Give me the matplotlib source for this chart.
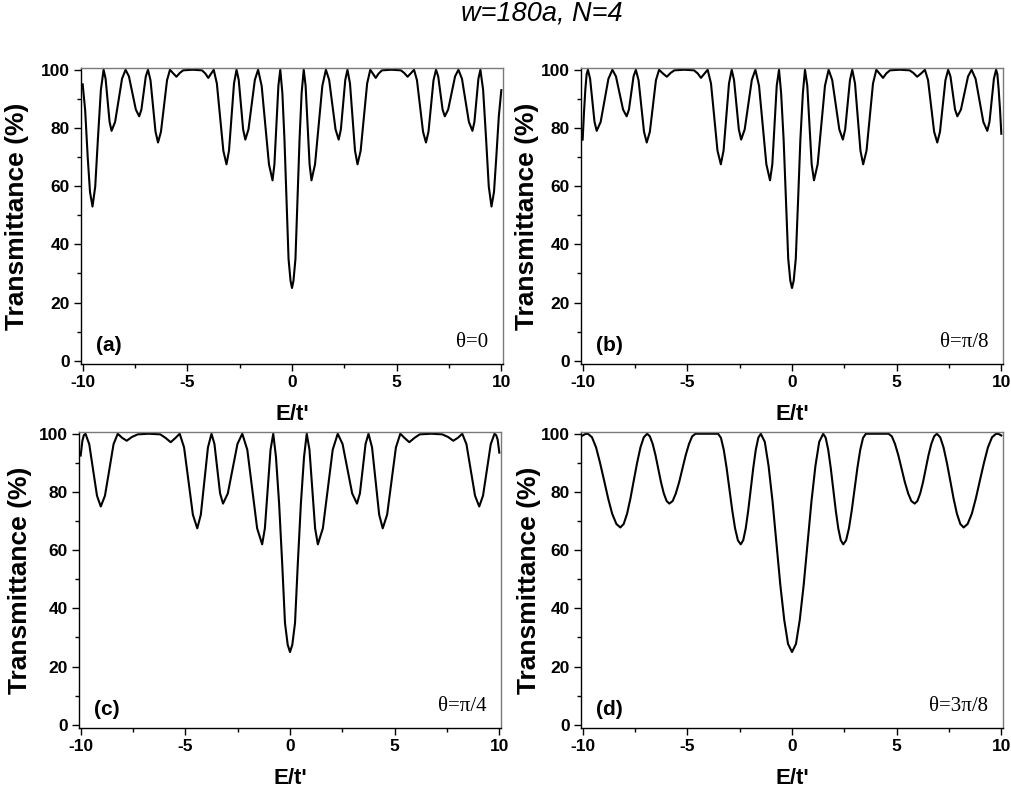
import matplotlib.pyplot as plt
from matplotlib.ticker import MultipleLocator

plt.rcParams["axes.unicode_minus"] = False
plt.rcParams["font.family"] = ["Liberation Sans", "DejaVu Sans"]

# transmittance curves, (E/t', T %)
curve_a = [
    (-10.00, 95.0), (-9.88, 86.0), (-9.76, 70.0), (-9.65, 58.0), (-9.53, 53.0),
    (-9.40, 59.9), (-9.27, 76.5), (-9.13, 93.1), (-9.00, 100.0),
    (-8.905, 96.9), (-8.81, 89.5), (-8.715, 82.1), (-8.62, 79.0),
    (-8.45, 82.1), (-8.285, 89.5), (-8.12, 96.9), (-7.95, 100.0),
    (-7.79, 97.7), (-7.625, 92.0), (-7.46, 86.3), (-7.30, 84.0),
    (-7.195, 86.3), (-7.09, 92.0), (-6.985, 97.7), (-6.88, 100.0),
    (-6.76, 96.4), (-6.64, 87.5), (-6.52, 78.7), (-6.40, 75.0),
    (-6.26, 78.7), (-6.115, 87.5), (-5.97, 96.4), (-5.83, 100.0),
    (-5.68, 98.8), (-5.52, 97.6), (-5.36, 98.9), (-5.20, 99.8), (-4.75, 100.0),
    (-4.30, 99.8), (-4.14, 98.7), (-4.00, 97.2), (-3.87, 98.6), (-3.74, 100.0),
    (-3.59, 95.3), (-3.435, 83.75), (-3.28, 72.2), (-3.13, 67.5),
    (-3.01, 72.2), (-2.89, 83.75), (-2.77, 95.3), (-2.65, 100.0),
    (-2.545, 96.5), (-2.44, 88.0), (-2.335, 79.5), (-2.23, 76.0),
    (-2.08, 79.5), (-1.925, 88.0), (-1.775, 96.5), (-1.62, 100.0),
    (-1.45, 94.5), (-1.275, 81.0), (-1.10, 67.5), (-0.93, 62.0),
    (-0.84, 67.5), (-0.745, 81.0), (-0.65, 94.5), (-0.56, 100.0),
    (-0.46, 92.0), (-0.36, 76.0), (-0.26, 55.0), (-0.165, 35.0), (-0.07, 27.5),
    (0.00, 25.0),
    (0.07, 27.5), (0.165, 35.0), (0.26, 55.0), (0.36, 76.0), (0.46, 92.0), (0.56, 100.0),
    (0.65, 94.5), (0.745, 81.0), (0.84, 67.5), (0.93, 62.0),
    (1.10, 67.5), (1.275, 81.0), (1.45, 94.5), (1.62, 100.0),
    (1.775, 96.5), (1.925, 88.0), (2.08, 79.5), (2.23, 76.0),
    (2.335, 79.5), (2.44, 88.0), (2.545, 96.5), (2.65, 100.0),
    (2.77, 95.3), (2.89, 83.75), (3.01, 72.2), (3.13, 67.5),
    (3.28, 72.2), (3.435, 83.75), (3.59, 95.3), (3.74, 100.0),
    (3.87, 98.6), (4.00, 97.2), (4.14, 98.7), (4.30, 99.8), (4.75, 100.0),
    (5.20, 99.8), (5.36, 98.9), (5.52, 97.6), (5.68, 98.8), (5.83, 100.0),
    (5.97, 96.4), (6.115, 87.5), (6.26, 78.7), (6.40, 75.0),
    (6.52, 78.7), (6.64, 87.5), (6.76, 96.4), (6.88, 100.0),
    (6.985, 97.7), (7.09, 92.0), (7.195, 86.3), (7.30, 84.0),
    (7.46, 86.3), (7.625, 92.0), (7.79, 97.7), (7.95, 100.0),
    (8.12, 96.9), (8.285, 89.5), (8.45, 82.1), (8.62, 79.0),
    (8.715, 82.1), (8.81, 89.5), (8.905, 96.9), (9.00, 100.0),
    (9.13, 93.1), (9.27, 76.5), (9.40, 59.9), (9.53, 53.0),
    (9.65, 58.0), (9.76, 70.0), (9.88, 84.0), (10.00, 93.0),
]

curve_b = [
    (-10.00, 76.0), (-9.94, 85.0), (-9.87, 93.5), (-9.81, 98.5), (-9.75, 100.0),
    (-9.645, 96.9), (-9.54, 89.5), (-9.435, 82.1), (-9.33, 79.0),
    (-9.14, 82.1), (-8.955, 89.5), (-8.77, 96.9), (-8.58, 100.0),
    (-8.41, 97.7), (-8.24, 92.0), (-8.07, 86.3), (-7.90, 84.0),
    (-7.79, 86.3), (-7.68, 92.0), (-7.57, 97.7), (-7.46, 100.0),
    (-7.33, 96.4), (-7.20, 87.5), (-7.07, 78.7), (-6.94, 75.0),
    (-6.79, 78.7), (-6.645, 87.5), (-6.50, 96.4), (-6.35, 100.0),
    (-6.18, 98.8), (-5.98, 97.6), (-5.80, 98.9), (-5.62, 99.8), (-5.15, 100.0),
    (-4.68, 99.8), (-4.50, 98.7), (-4.35, 97.2), (-4.19, 98.6), (-4.03, 100.0),
    (-3.87, 95.3), (-3.715, 83.75), (-3.56, 72.2), (-3.40, 67.5),
    (-3.27, 72.2), (-3.14, 83.75), (-3.01, 95.3), (-2.88, 100.0),
    (-2.77, 96.5), (-2.655, 88.0), (-2.54, 79.5), (-2.43, 76.0),
    (-2.26, 79.5), (-2.09, 88.0), (-1.92, 96.5), (-1.75, 100.0),
    (-1.575, 94.5), (-1.40, 81.0), (-1.225, 67.5), (-1.05, 62.0),
    (-0.94, 67.5), (-0.835, 81.0), (-0.73, 94.5), (-0.62, 100.0),
    (-0.52, 92.0), (-0.40, 76.0), (-0.29, 55.0), (-0.18, 35.0), (-0.08, 27.5),
    (0.00, 25.0),
    (0.08, 27.5), (0.18, 35.0), (0.29, 55.0), (0.40, 76.0), (0.52, 92.0), (0.62, 100.0),
    (0.73, 94.5), (0.835, 81.0), (0.94, 67.5), (1.05, 62.0),
    (1.225, 67.5), (1.40, 81.0), (1.575, 94.5), (1.75, 100.0),
    (1.92, 96.5), (2.09, 88.0), (2.26, 79.5), (2.43, 76.0),
    (2.54, 79.5), (2.655, 88.0), (2.77, 96.5), (2.88, 100.0),
    (3.01, 95.3), (3.14, 83.75), (3.27, 72.2), (3.40, 67.5),
    (3.56, 72.2), (3.715, 83.75), (3.87, 95.3), (4.03, 100.0),
    (4.19, 98.6), (4.35, 97.2), (4.50, 98.7), (4.68, 99.8), (5.15, 100.0),
    (5.62, 99.8), (5.80, 98.9), (5.98, 97.6), (6.18, 98.8), (6.35, 100.0),
    (6.50, 96.4), (6.645, 87.5), (6.79, 78.7), (6.94, 75.0),
    (7.07, 78.7), (7.20, 87.5), (7.33, 96.4), (7.46, 100.0),
    (7.57, 97.7), (7.68, 92.0), (7.79, 86.3), (7.90, 84.0),
    (8.07, 86.3), (8.24, 92.0), (8.41, 97.7), (8.58, 100.0),
    (8.77, 96.9), (8.955, 89.5), (9.14, 82.1), (9.33, 79.0),
    (9.435, 82.1), (9.54, 89.5), (9.645, 96.9), (9.75, 100.0),
    (9.81, 98.5), (9.87, 93.5), (9.94, 86.0), (10.00, 78.0),
]

curve_c = [
    (-10.00, 92.5), (-9.92, 97.5), (-9.85, 99.5), (-9.77, 100.0),
    (-9.59, 96.4), (-9.405, 87.5), (-9.22, 78.7), (-9.04, 75.0),
    (-8.84, 78.7), (-8.635, 87.5), (-8.43, 96.4), (-8.23, 100.0),
    (-8.02, 98.6), (-7.80, 97.6), (-7.55, 98.9), (-7.27, 99.8), (-6.75, 100.0),
    (-6.20, 99.8), (-5.95, 98.6), (-5.70, 97.1), (-5.48, 98.5), (-5.27, 100.0),
    (-5.06, 95.3), (-4.85, 83.75), (-4.64, 72.2), (-4.43, 67.5),
    (-4.26, 72.2), (-4.09, 83.75), (-3.92, 95.3), (-3.75, 100.0),
    (-3.61, 96.5), (-3.475, 88.0), (-3.34, 79.5), (-3.20, 76.0),
    (-2.97, 79.5), (-2.74, 88.0), (-2.51, 96.5), (-2.28, 100.0),
    (-2.04, 94.5), (-1.805, 81.0), (-1.57, 67.5), (-1.33, 62.0),
    (-1.20, 67.5), (-1.065, 81.0), (-0.93, 94.5), (-0.80, 100.0),
    (-0.67, 92.0), (-0.52, 76.0), (-0.37, 55.0), (-0.24, 35.0), (-0.11, 27.5),
    (0.00, 25.0),
    (0.11, 27.5), (0.24, 35.0), (0.37, 55.0), (0.52, 76.0), (0.67, 92.0), (0.80, 100.0),
    (0.93, 94.5), (1.065, 81.0), (1.20, 67.5), (1.33, 62.0),
    (1.57, 67.5), (1.805, 81.0), (2.04, 94.5), (2.28, 100.0),
    (2.51, 96.5), (2.74, 88.0), (2.97, 79.5), (3.20, 76.0),
    (3.34, 79.5), (3.475, 88.0), (3.61, 96.5), (3.75, 100.0),
    (3.92, 95.3), (4.09, 83.75), (4.26, 72.2), (4.43, 67.5),
    (4.64, 72.2), (4.85, 83.75), (5.06, 95.3), (5.27, 100.0),
    (5.48, 98.5), (5.70, 97.1), (5.95, 98.6), (6.20, 99.8), (6.75, 100.0),
    (7.27, 99.8), (7.55, 98.9), (7.80, 97.6), (8.02, 98.6), (8.23, 100.0),
    (8.43, 96.4), (8.635, 87.5), (8.84, 78.7), (9.04, 75.0),
    (9.22, 78.7), (9.405, 87.5), (9.59, 96.4), (9.77, 100.0),
    (9.85, 99.5), (9.92, 98.0), (10.00, 93.5),
]

curve_d = [
    (-10.00, 99.4), (-9.88, 99.9), (-9.75, 100.0),
    (-9.556, 98.8), (-9.36, 95.3), (-9.17, 90.0), (-8.975, 83.9),
    (-8.78, 77.7), (-8.59, 72.5), (-8.39, 69.0), (-8.20, 67.8),
    (-8.04, 69.0), (-7.88, 72.5), (-7.72, 77.7), (-7.56, 83.9),
    (-7.40, 90.0), (-7.24, 95.3), (-7.08, 98.8), (-6.92, 100.0),
    (-6.79, 99.1), (-6.655, 96.5), (-6.52, 92.6), (-6.39, 88.0),
    (-6.26, 83.4), (-6.125, 79.5), (-5.99, 76.9), (-5.86, 76.0),
    (-5.70, 76.9), (-5.55, 79.5), (-5.39, 83.4), (-5.235, 88.0),
    (-5.08, 92.6), (-4.92, 96.5), (-4.77, 99.1), (-4.61, 100.0),
    (-4.07, 100.0), (-3.53, 100.0),
    (-3.395, 98.6), (-3.26, 94.5), (-3.125, 88.3), (-2.99, 81.0),
    (-2.855, 73.7), (-2.72, 67.5), (-2.585, 63.4), (-2.45, 62.0),
    (-2.33, 63.4), (-2.21, 67.5), (-2.09, 73.7), (-1.97, 81.0),
    (-1.85, 88.3), (-1.73, 94.5), (-1.61, 98.6), (-1.49, 100.0),
    (-1.30, 97.2), (-1.12, 89.0), (-0.93, 76.8), (-0.745, 62.5),
    (-0.56, 48.2), (-0.37, 36.0), (-0.19, 27.8), (0.00, 25.0),
    (0.19, 27.8), (0.37, 36.0), (0.56, 48.2), (0.745, 62.5),
    (0.93, 76.8), (1.12, 89.0), (1.30, 97.2), (1.49, 100.0),
    (1.61, 98.6), (1.73, 94.5), (1.85, 88.3), (1.97, 81.0),
    (2.09, 73.7), (2.21, 67.5), (2.33, 63.4), (2.45, 62.0),
    (2.585, 63.4), (2.72, 67.5), (2.855, 73.7), (2.99, 81.0),
    (3.125, 88.3), (3.26, 94.5), (3.395, 98.6), (3.53, 100.0),
    (4.07, 100.0), (4.61, 100.0),
    (4.77, 99.1), (4.92, 96.5), (5.08, 92.6), (5.235, 88.0),
    (5.39, 83.4), (5.55, 79.5), (5.70, 76.9), (5.86, 76.0),
    (5.99, 76.9), (6.125, 79.5), (6.26, 83.4), (6.39, 88.0),
    (6.52, 92.6), (6.655, 96.5), (6.79, 99.1), (6.92, 100.0),
    (7.08, 98.8), (7.24, 95.3), (7.40, 90.0), (7.56, 83.9),
    (7.72, 77.7), (7.88, 72.5), (8.04, 69.0), (8.20, 67.8),
    (8.39, 69.0), (8.59, 72.5), (8.78, 77.7), (8.975, 83.9),
    (9.17, 90.0), (9.36, 95.3), (9.556, 98.8), (9.75, 100.0),
    (9.88, 99.9), (10.00, 99.4),
]

panel_tags = ["(a)", "(b)", "(c)", "(d)"]
angle_labels = ["\u03b8=0", "\u03b8=\u03c0/8", "\u03b8=\u03c0/4", "\u03b8=3\u03c0/8"]
title = "w=180a, N=4"
xlabel = "E/t'"
ylabel = "Transmittance (%)"

SANS = "Liberation Sans"
SERIF = "Liberation Serif"

fig = plt.figure(figsize=(10.12, 7.91), dpi=100)
fig.patch.set_facecolor("white")

W, H = 1012.0, 791.0
# axes boxes in pixels: left, top, right, bottom
boxes = [
    (81, 68, 503, 364),
    (581, 68, 1003, 364),
    (79, 432, 501, 728),
    (581, 432, 1003, 728),
]
ylabel_x = [-0.124, -0.100, -0.112, -0.095]

curves = [curve_a, curve_b, curve_c, curve_d]

for i, (l, t, r, b) in enumerate(boxes):
    ax = fig.add_axes([l / W, 1 - b / H, (r - l) / W, (b - t) / H])
    xs = [p[0] for p in curves[i]]
    ys = [p[1] for p in curves[i]]
    ax.plot(xs, ys, color="black", lw=1.5, solid_joinstyle="round")

    ax.set_xlim(-10.08, 10.08)
    ax.set_ylim(-1.1, 100.6)
    ax.xaxis.set_major_locator(MultipleLocator(5))
    ax.xaxis.set_minor_locator(MultipleLocator(2.5))
    ax.yaxis.set_major_locator(MultipleLocator(20))
    ax.yaxis.set_minor_locator(MultipleLocator(10))
    ax.tick_params(which="both", direction="out", top=False, right=False,
                   width=1.0, color="black")
    ax.tick_params(which="major", length=5, pad=3, labelsize=12.5)
    ax.tick_params(which="minor", length=3)
    for lab in ax.get_xticklabels() + ax.get_yticklabels():
        lab.set_fontweight("bold")

    for side in ("left", "bottom"):
        ax.spines[side].set_color("black")
        ax.spines[side].set_linewidth(1.0)
    for side in ("top", "right"):
        ax.spines[side].set_color("#7a7a7a")
        ax.spines[side].set_linewidth(1.0)

    ax.set_xlabel(xlabel, fontfamily=SANS, fontweight="bold", fontsize=16)
    ax.xaxis.set_label_coords(0.5, -0.135)
    ax.set_ylabel(ylabel, fontfamily=SANS, fontweight="bold", fontsize=19)
    ax.yaxis.set_label_coords(ylabel_x[i], 0.5)

    ax.text(0.036, 0.03, panel_tags[i], transform=ax.transAxes,
            fontfamily=SANS, fontweight="bold", fontsize=15,
            ha="left", va="bottom")
    ax.text(0.965, 0.04, angle_labels[i], transform=ax.transAxes,
            fontfamily=SERIF, fontsize=15, ha="right", va="bottom")

fig.text(542 / W, 1 - 13 / H, title, fontfamily=SANS, fontstyle="italic",
         fontsize=19.5, ha="center", va="center")

fig.savefig("out.png", dpi=100, facecolor="white")
